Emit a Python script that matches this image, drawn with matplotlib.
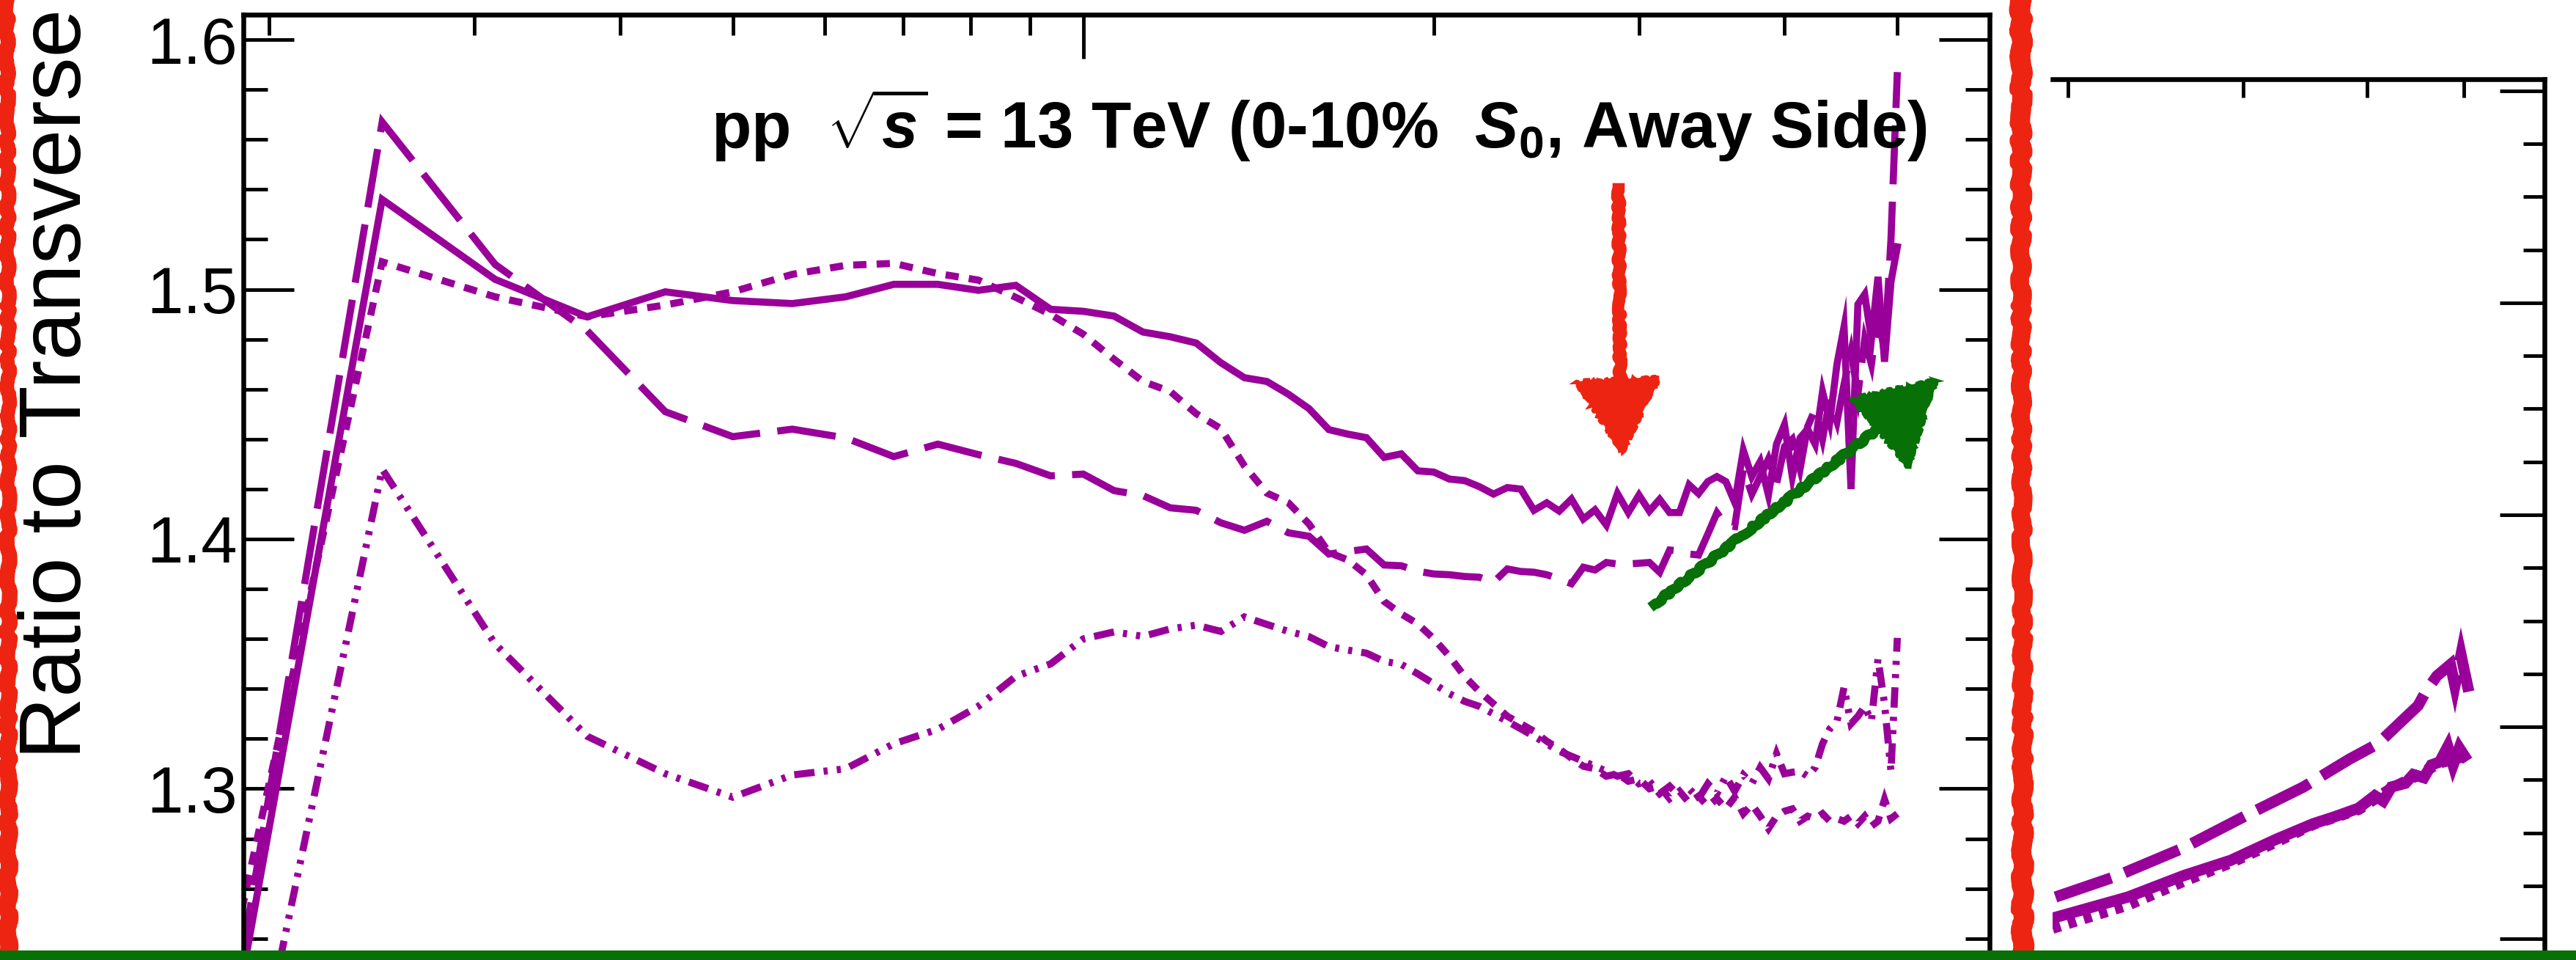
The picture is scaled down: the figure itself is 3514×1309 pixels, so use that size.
import numpy as np
import matplotlib
matplotlib.use("Agg")
import matplotlib.pyplot as plt
from matplotlib.lines import Line2D
from matplotlib.patches import Polygon, Rectangle
from matplotlib.ticker import MultipleLocator, FixedLocator, NullLocator, FormatStrFormatter, NullFormatter

W, H = 3514, 1309

plt.rcParams['font.family'] = ['Liberation Sans', 'DejaVu Sans']
plt.rcParams['mathtext.fontset'] = 'custom'
plt.rcParams['mathtext.rm'] = 'Liberation Sans:bold'
plt.rcParams['mathtext.bf'] = 'Liberation Sans:bold'
plt.rcParams['mathtext.it'] = 'Liberation Sans:italic:bold'
plt.rcParams['lines.scale_dashes'] = False

PURPLE = '#990099'
RED = '#ee2412'
GREEN = '#077007'

# pT bins, 0.625 wide, bin 3 .. bin 80
bins = np.arange(3, 81)
pt = 0.625 * bins

ratio_solid = [
    1.212, 1.536, 1.504, 1.489, 1.499, 1.4955, 1.4943, 1.497, 1.502, 1.502,
    1.4996, 1.5016, 1.492, 1.4912, 1.4893, 1.4829, 1.481, 1.4785, 1.4706, 1.4646,
    1.4631, 1.458, 1.4522, 1.4438, 1.442, 1.4406, 1.4327, 1.4341, 1.4273, 1.4268,
    1.424, 1.4234, 1.421, 1.418, 1.4206, 1.420, 1.4115, 1.4145, 1.4112, 1.416,
    1.408, 1.4117, 1.4056, 1.4182, 1.4106, 1.4176, 1.4112, 1.4159, 1.4106, 1.4106,
    1.4217, 1.4182, 1.423, 1.425, 1.423, 1.4147, 1.4355, 1.425, 1.431, 1.4176,
    1.438, 1.4458, 1.425, 1.4405, 1.444, 1.438, 1.459, 1.447, 1.470, 1.485,
    1.420, 1.494, 1.498, 1.480, 1.505, 1.471, 1.503, 1.517,
]
ratio_dashed = [
    1.220, 1.567, 1.510, 1.4834, 1.451, 1.441, 1.444, 1.4405, 1.433, 1.438,
    1.4338, 1.4303, 1.4253, 1.426, 1.4194, 1.4174, 1.4125, 1.4115, 1.4065, 1.4035,
    1.4071, 1.4025, 1.4011, 1.394, 1.395, 1.396, 1.3896, 1.3893, 1.3871, 1.386,
    1.3857, 1.385, 1.3847, 1.3827, 1.388, 1.387, 1.3867, 1.3857, 1.384, 1.3821,
    1.3887, 1.3876, 1.3906, 1.390, 1.390, 1.3903, 1.3906, 1.3867, 1.3956, 1.3952,
    1.394, 1.3936, 1.402, 1.4105, 1.4055, 1.405, 1.428, 1.418, 1.425, 1.432,
    1.422, 1.437, 1.440, 1.428, 1.445, 1.452, 1.440, 1.456, 1.447, 1.462,
    1.475, 1.458, 1.480, 1.470, 1.490, 1.475, 1.520, 1.587,
]
ratio_dotted = [
    1.242, 1.511, 1.497, 1.489, 1.4937, 1.499, 1.506, 1.5096, 1.5104, 1.5063,
    1.5037, 1.4968, 1.4899, 1.482, 1.472, 1.4631, 1.4591, 1.4502, 1.4442, 1.4293,
    1.4184, 1.4145, 1.406, 1.3946, 1.3916, 1.3857, 1.375, 1.370, 1.366, 1.360,
    1.353, 1.345, 1.339, 1.334, 1.329, 1.326, 1.323, 1.319, 1.316, 1.3122,
    1.309, 1.308, 1.305, 1.306, 1.303, 1.304, 1.300, 1.301, 1.296, 1.299,
    1.2944, 1.297, 1.293, 1.296, 1.292, 1.2966, 1.290, 1.2937, 1.289, 1.284,
    1.289, 1.291, 1.2919, 1.287, 1.289, 1.288, 1.290, 1.287, 1.288, 1.287,
    1.289, 1.286, 1.289, 1.285, 1.287, 1.2957, 1.288, 1.290,
]
ratio_dashdot = [
    1.148, 1.428, 1.358, 1.321, 1.306, 1.2966, 1.3055, 1.308, 1.318, 1.3238,
    1.333, 1.345, 1.350, 1.360, 1.3628, 1.361, 1.364, 1.3655, 1.363, 1.3688,
    1.3658, 1.363, 1.3609, 1.3569, 1.3555, 1.3543, 1.351, 1.3498, 1.346, 1.342,
    1.338, 1.335, 1.333, 1.330, 1.327, 1.324, 1.321, 1.318, 1.315, 1.313,
    1.311, 1.309, 1.307, 1.305, 1.306, 1.302, 1.303, 1.298, 1.301, 1.297,
    1.300, 1.296, 1.302, 1.298, 1.305, 1.299, 1.3055, 1.302, 1.3085, 1.304,
    1.314, 1.306, 1.3066, 1.307, 1.305, 1.3085, 1.318, 1.324, 1.327, 1.3406,
    1.326, 1.329, 1.333, 1.327, 1.352, 1.334, 1.307, 1.3604,
]

# right-hand panel
right_x_solid = [1.929, 2.298, 2.614, 2.915, 3.245, 3.53, 3.70, 3.92, 4.07, 4.15,
                 4.23, 4.37, 4.45, 4.56, 4.64, 4.73, 4.82, 4.88, 4.95, 5.01]
right_y_solid = [1.2097, 1.2197, 1.2298, 1.237, 1.2471, 1.2543, 1.2574, 1.2616, 1.2675, 1.265,
                 1.2716, 1.2734, 1.2775, 1.276, 1.282, 1.2834, 1.2907, 1.282, 1.290, 1.2862]
right_x_dashed = [1.943, 2.233, 2.614, 3.06, 3.45, 3.84, 4.10, 4.35, 4.50, 4.58,
                  4.70, 4.85, 4.90, 4.97, 5.06]
right_y_dashed = [1.2197, 1.2294, 1.2429, 1.2595, 1.2716, 1.2848, 1.292, 1.3035, 1.310, 1.3166,
                  1.324, 1.3294, 1.3194, 1.3339, 1.3166]
right_x_dotted = [1.93, 2.30, 2.61, 2.92, 3.25, 3.53, 3.92, 4.23, 4.49, 4.73, 5.01]
right_y_dotted = [1.205, 1.216, 1.227, 1.236, 1.246, 1.254, 1.261, 1.271, 1.277, 1.283, 1.286]


def fx(px):
    return px / W


def fy(py):
    return 1 - py / H


fig = plt.figure(figsize=(W / 100, H / 100), dpi=100)

# left panel
ax = fig.add_axes([fx(332), 0, fx(2714) - fx(332), fy(20)])
ax.set_xscale('log')
ax.set_xlim(1.90, 60)
ax.set_ylim(1.2314, 1.61)

style = dict(color=PURPLE, lw=7, solid_joinstyle='miter', dash_joinstyle='miter', dash_capstyle='butt')
ax.plot(pt, ratio_solid, ls='-', **style)
ax.plot(pt, ratio_dashed, ls=(0, (58, 17)), **style)
ax.plot(pt, ratio_dotted, ls=(0, (13, 10)), **style)
ax.plot(pt, ratio_dashdot, ls=(0, (20, 9, 4, 9, 4, 9)), **style)

ax.xaxis.set_major_locator(FixedLocator([10]))
ax.xaxis.set_minor_locator(FixedLocator([2, 3, 4, 5, 6, 7, 8, 9, 20, 30, 40, 50]))
ax.xaxis.set_major_formatter(NullFormatter())
ax.xaxis.set_minor_formatter(NullFormatter())
ax.tick_params(axis='x', which='both', direction='in', top=True, bottom=False,
               labeltop=False, labelbottom=False, width=3.5)
ax.tick_params(axis='x', which='major', length=43)
ax.tick_params(axis='x', which='minor', length=20)

ax.yaxis.set_major_locator(MultipleLocator(0.1))
ax.yaxis.set_minor_locator(MultipleLocator(0.02))
ax.yaxis.set_major_formatter(FormatStrFormatter('%.1f'))
ax.tick_params(axis='y', which='both', direction='in', left=True, right=True, width=3.5, pad=6)
ax.tick_params(axis='y', which='major', length=50, labelsize=64)
ax.tick_params(axis='y', which='minor', length=24)
for s in ['top', 'left', 'right']:
    ax.spines[s].set_linewidth(4.7)
ax.spines['bottom'].set_visible(False)

# right panel
ax2 = fig.add_axes([fx(2800), 0, fx(3471) - fx(2800), fy(108)])
ax2.set_xscale('log')
ax2.set_xlim(1.93, 6.03)
ax2.set_ylim(1.19, 1.6055)
style2 = dict(color=PURPLE, lw=11, solid_joinstyle='miter', dash_joinstyle='miter', dash_capstyle='butt')
ax2.plot(right_x_dotted, right_y_dotted, ls=(0, (8, 8)), **style2)
ax2.plot(right_x_solid, right_y_solid, ls='-', **style2)
ax2.plot(right_x_dashed, right_y_dashed, ls=(0, (58, 14)), **style2)

ax2.xaxis.set_major_locator(NullLocator())
ax2.xaxis.set_minor_locator(FixedLocator([2, 3, 4, 5]))
ax2.xaxis.set_minor_formatter(NullFormatter())
ax2.tick_params(axis='x', which='both', direction='in', top=True, bottom=False,
                labeltop=False, labelbottom=False, width=3.5, length=18)
ax2.yaxis.set_major_locator(MultipleLocator(0.1))
ax2.yaxis.set_minor_locator(MultipleLocator(0.025))
ax2.tick_params(axis='y', which='both', direction='in', left=False, right=True,
                labelleft=False, labelright=False, width=3.5)
ax2.tick_params(axis='y', which='major', length=44)
ax2.tick_params(axis='y', which='minor', length=21)
ax2.spines['left'].set_visible(False)
ax2.spines['bottom'].set_visible(False)
ax2.spines['top'].set_linewidth(4.7)
ax2.spines['right'].set_linewidth(4.7)

# texts
fig.text(fx(80), fy(1035), 'Ratio to Transverse', rotation=90, fontsize=85,
         ha='center', va='bottom')
fig.text(fx(970), fy(202), r'pp  $\sqrt{s}$ = 13 TeV (0-10%  $S_{0}$, Away Side)',
         fontsize=64, fontweight='bold', ha='left', va='baseline')

# hand-drawn marks on top of the plot
for x0, x1 in [(4, 12), (10, 4), (14, 18), (7, 15),
               (2748, 2754), (2756, 2750), (2762, 2768), (2766, 2760)]:
    ln = Line2D([fx(x0), fx(x1)], [1.02, -0.02], transform=fig.transFigure,
                color=RED, lw=8, zorder=10, solid_capstyle='round')
    ln.set_sketch_params(scale=2, length=120, randomness=20)
    fig.add_artist(ln)

shaft = Line2D([fx(2208), fx(2210)], [fy(258), fy(530)], transform=fig.transFigure,
               color=RED, lw=12, zorder=10)
shaft.set_sketch_params(scale=2, length=60, randomness=20)
fig.add_artist(shaft)
head = Polygon([[fx(2150), fy(521)], [fx(2263), fy(515)], [fx(2213), fy(616)]],
               closed=True, transform=fig.transFigure, facecolor=RED, edgecolor=RED,
               lw=4, zorder=10)
head.set_sketch_params(scale=2, length=40, randomness=20)
fig.add_artist(head)

gshaft = Line2D([fx(2257), fx(2585)], [fy(824), fy(566)], transform=fig.transFigure,
                color=GREEN, lw=10, zorder=10)
gshaft.set_sketch_params(scale=2, length=60, randomness=20)
fig.add_artist(gshaft)
ghead = Polygon([[fx(2527), fy(544)], [fx(2641), fy(518)], [fx(2603), fy(636)]],
                closed=True, transform=fig.transFigure, facecolor=GREEN, edgecolor=GREEN,
                lw=4, zorder=10)
ghead.set_sketch_params(scale=2, length=40, randomness=20)
fig.add_artist(ghead)

fig.add_artist(Rectangle((0, 0), 1, 13 / H, transform=fig.transFigure,
                         facecolor=GREEN, edgecolor='none', zorder=11))

fig.savefig('out.png', dpi=100)
